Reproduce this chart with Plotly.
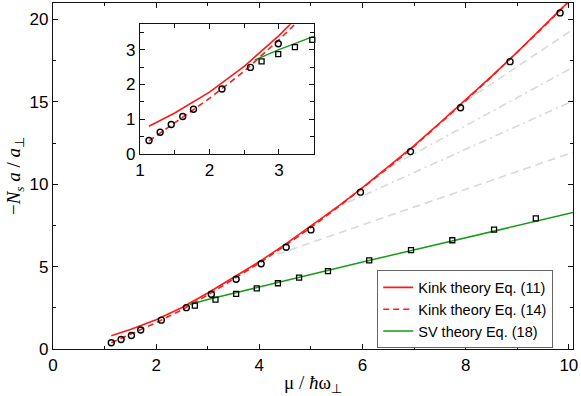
"""Soliton number vs chemical potential, with low-mu inset."""

import plotly.graph_objects as go

# Kink theory Eq. (11) and Eq. (14), SV theory Eq. (18)
kink11_x = [1.13, 1.5, 2.0, 2.5, 3.0, 3.5, 4.0, 4.5, 5.0, 5.5, 6.0, 6.5, 7.0, 7.5, 8.0, 8.5, 9.0, 9.5, 10.0]
kink11_y = [0.80, 1.18, 1.78, 2.52, 3.40, 4.35, 5.30, 6.35, 7.45, 8.60, 9.80, 11.05, 12.35, 13.72, 15.12, 16.55, 18.02, 19.55, 21.1]
kink14_x = [1.13, 1.5, 2.0, 2.5, 3.0, 3.5, 4.0, 4.5, 5.0, 5.5, 6.0, 6.5, 7.0, 7.5, 8.0, 8.5, 9.0, 9.5, 10.0]
kink14_y = [0.38, 0.90, 1.60, 2.38, 3.28, 4.25, 5.22, 6.28, 7.38, 8.55, 9.75, 11.0, 12.3, 13.68, 15.08, 16.52, 18.0, 19.52, 21.08]
sv_x = [2.65, 3.0, 3.5, 4.0, 5.0, 6.0, 7.0, 8.0, 9.0, 10.08]
sv_y = [2.70, 3.00, 3.38, 3.75, 4.52, 5.28, 6.02, 6.78, 7.52, 8.28]

# simulation points, main panel
circ_x = [1.13, 1.32, 1.52, 1.70, 2.10, 2.585, 3.07, 3.55, 4.035, 4.52, 5.00, 5.96, 6.93, 7.90, 8.86, 9.83]
circ_y = [0.38, 0.58, 0.82, 1.15, 1.75, 2.51, 3.32, 4.23, 5.17, 6.18, 7.23, 9.52, 11.98, 14.64, 17.44, 20.4]
sq_x = [2.75, 3.15, 3.55, 3.95, 4.36, 4.77, 5.33, 6.13, 6.94, 7.74, 8.55, 9.36]
sq_y = [2.63, 3.00, 3.34, 3.68, 3.99, 4.33, 4.73, 5.38, 6.00, 6.60, 7.25, 7.93]

# simulation points, inset
in_circ_x = [1.13, 1.29, 1.45, 1.615, 1.77, 2.18, 2.59, 2.99]
in_circ_y = [0.39, 0.63, 0.85, 1.08, 1.29, 1.87, 2.49, 3.17]
in_sq_x = [2.75, 2.99, 3.23, 3.48]
in_sq_y = [2.66, 2.87, 3.07, 3.28]

# faint guide lines (start, end)
guides = [
    ([8.0, 10.08], [15.05, 19.4], "8px,5px"),
    ([6.5, 10.08], [11.0, 17.1], "8px,4px,2px,4px"),
    ([5.4, 10.08], [8.45, 15.06], "8px,4px,2px,4px"),
    ([4.35, 10.08], [5.75, 11.94], "8px,5px"),
]

RED = "#ff1a1a"
GREEN = "#169c16"
GREY = "#d9d9d9"
FONT = "Liberation Sans"
SERIF = "Liberation Serif"

fig = go.Figure()

for gx, gy, dash in guides:
    fig.add_trace(go.Scatter(x=gx, y=gy, mode="lines", showlegend=False,
                             line=dict(color=GREY, width=1.6, dash=dash)))

for xa, ya, show in (("x", "y", True), ("x2", "y2", False)):
    fig.add_trace(go.Scatter(x=kink11_x, y=kink11_y, mode="lines", xaxis=xa, yaxis=ya,
                             name="Kink theory Eq. (11)", showlegend=show,
                             line=dict(color=RED, width=1.6)))
    fig.add_trace(go.Scatter(x=kink14_x, y=kink14_y, mode="lines", xaxis=xa, yaxis=ya,
                             name="Kink theory Eq. (14)", showlegend=show,
                             line=dict(color=RED, width=1.6, dash="6px,4px")))
    fig.add_trace(go.Scatter(x=sv_x, y=sv_y, mode="lines", xaxis=xa, yaxis=ya,
                             name="SV theory Eq. (18)", showlegend=show,
                             line=dict(color=GREEN, width=1.5)))

circle = dict(symbol="circle-open", size=6, color="black", line=dict(width=1.4))
square = dict(symbol="square-open", size=5, color="black", line=dict(width=1.3))

fig.add_trace(go.Scatter(x=circ_x, y=circ_y, mode="markers", marker=circle, showlegend=False))
fig.add_trace(go.Scatter(x=sq_x, y=sq_y, mode="markers", marker=square, showlegend=False))
fig.add_trace(go.Scatter(x=in_circ_x, y=in_circ_y, mode="markers", marker=circle,
                         xaxis="x2", yaxis="y2", showlegend=False, cliponaxis=False))
fig.add_trace(go.Scatter(x=in_sq_x, y=in_sq_y, mode="markers", marker=square,
                         xaxis="x2", yaxis="y2", showlegend=False, cliponaxis=False))

axis_common = dict(
    showgrid=False, zeroline=False, showline=True, linecolor="#111", linewidth=1.3,
    mirror="ticks", ticks="inside", ticklen=5, tickcolor="#111", tickwidth=1.2,
    tickfont=dict(family=FONT, size=17, color="black"),
)

fig.update_layout(
    width=581, height=396,
    margin=dict(l=53, r=8, t=2, b=46),
    paper_bgcolor="white", plot_bgcolor="white",
    font=dict(family=FONT, color="black"),
    xaxis=dict(
        range=[0, 10.08], tickvals=[0, 2, 4, 6, 8, 10],
        minor=dict(dtick=1, ticks="inside", ticklen=3, tickcolor="#111", showgrid=False),
        title=dict(text="μ / <i>ħ</i>ω<sub>⊥</sub>", font=dict(family=SERIF, size=19), standoff=6),
        **axis_common,
    ),
    yaxis=dict(
        range=[0, 21], tickvals=[0, 5, 10, 15, 20],
        minor=dict(dtick=2.5, ticks="inside", ticklen=3, tickcolor="#111", showgrid=False),
        title=dict(text="−<i>N<sub>s</sub> a</i> / <i>a</i><sub>⊥</sub>",
                   font=dict(family=SERIF, size=19), standoff=3),
        **axis_common,
    ),
    xaxis2=dict(
        domain=[0.1673, 0.5013], anchor="y2",
        range=[1, 3.5], tickvals=[1, 2, 3],
        minor=dict(dtick=0.5, ticks="inside", ticklen=4, tickcolor="#111", showgrid=False),
        **axis_common,
    ),
    yaxis2=dict(
        domain=[0.5632, 0.9388], anchor="x2",
        range=[0, 3.73], tickvals=[0, 1, 2, 3],
        minor=dict(dtick=0.5, ticks="inside", ticklen=4, tickcolor="#111", showgrid=False),
        **axis_common,
    ),
    legend=dict(
        x=0.962, y=0.227, xanchor="right", yanchor="top",
        bgcolor="white", bordercolor="#666", borderwidth=1,
        font=dict(family=FONT, size=14.5, color="black"),
        itemwidth=30, tracegroupgap=0,
    ),
)

# the page's default body margin would shift the whole chart by 8 px
fig.write_html("out.html", config={"displayModeBar": False},
               post_script="document.body.style.margin='0';")
